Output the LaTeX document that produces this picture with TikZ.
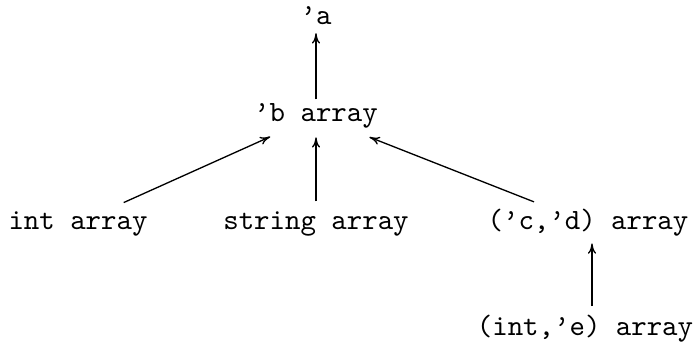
\documentclass[tikz,border=0pt]{standalone}
\usetikzlibrary{arrows.meta}
\begin{document}
\begin{tikzpicture}[x=0.34pt,y=-0.34pt,
  lbl/.style={inner sep=0pt,outer sep=0pt,anchor=base,font=\ttfamily,text height=6pt,text depth=2pt},
  arr/.style={-{To[length=3.5pt,width=2.8pt]},line width=0.45pt}]
\useasboundingbox (0,0) rectangle (697,345);
\node[lbl] (a) at (316,25) {’a};
\node[lbl] (b) at (316,122) {’b array};
\node[lbl] (int) at (78,229) {int array};
\node[lbl] (str) at (316,229) {string array};
\node[lbl] (cd) at (588,229) {(’c,’d) array};
\node[lbl] (ie) at (585,335) {(int,’e) array};
\coordinate (ax) at (592,0);
\draw[arr,shorten <=1.7pt,shorten >=0.8pt] (b) -- (a);
\draw[arr,shorten <=3.4pt,shorten >=3.2pt] (str) -- (b);
\draw[arr,shorten <=7.3pt,shorten >=7.3pt] (int) -- (b);
\draw[arr,shorten <=8.8pt,shorten >=8.6pt] (cd) -- (b);
\draw[arr,shorten <=3.8pt,shorten >=2.9pt] (ie.north -| ax) -- (cd.south -| ax);
\end{tikzpicture}
\end{document}
